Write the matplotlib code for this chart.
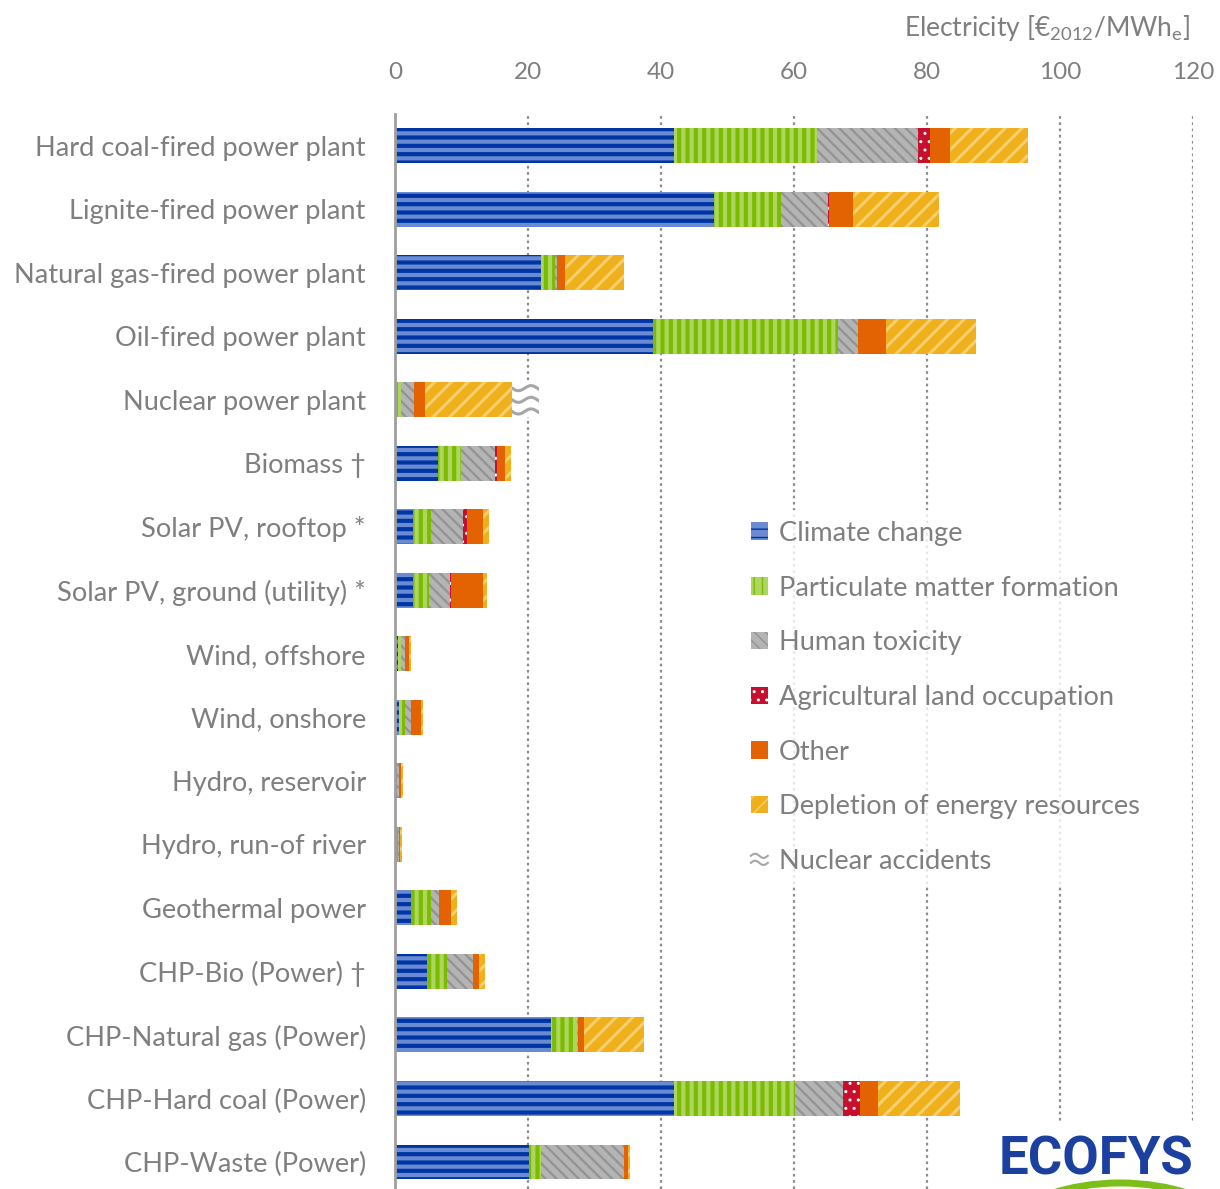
import matplotlib
matplotlib.use('Agg')
import matplotlib.pyplot as plt
import matplotlib.transforms as mtrans
import numpy as np
from matplotlib.patches import Arc, Rectangle
from matplotlib.lines import Line2D
from matplotlib.legend_handler import HandlerBase

plt.rcParams['font.family'] = ['Lato', 'DejaVu Sans']
plt.rcParams['mathtext.fontset'] = 'custom'
plt.rcParams['mathtext.rm'] = 'Lato'
plt.rcParams['mathtext.default'] = 'regular'

# ---------------- data ----------------
categories = [
    "Hard coal-fired power plant",
    "Lignite-fired power plant",
    "Natural gas-fired power plant",
    "Oil-fired power plant",
    "Nuclear power plant",
    "Biomass \u2020",
    "Solar PV, rooftop *",
    "Solar PV, ground (utility) *",
    "Wind, offshore",
    "Wind, onshore",
    "Hydro, reservoir",
    "Hydro, run-of river",
    "Geothermal power",
    "CHP-Bio (Power) \u2020",
    "CHP-Natural gas (Power)",
    "CHP-Hard coal (Power)",
    "CHP-Waste (Power)",
]
climate_change = [41.9, 48.0, 22.0, 38.8, 0.1, 6.4, 2.7, 2.7, 0.4, 0.6, 0.3, 0.1, 2.4, 4.8, 23.5, 41.9, 20.2]
particulate    = [21.5, 10.1, 2.0, 27.8, 0.8, 3.5, 2.7, 2.4, 0.5, 0.9, 0.05, 0.3, 3.0, 3.0, 3.9, 18.2, 1.7]
human_toxicity = [15.3, 7.0, 0.3, 3.0, 1.9, 5.1, 4.8, 3.1, 0.6, 0.9, 0.2, 0.2, 1.2, 3.9, 0.1, 7.3, 12.6]
agri_land      = [1.8, 0.2, 0.0, 0.0, 0.0, 0.3, 0.6, 0.2, 0.0, 0.0, 0.0, 0.0, 0.0, 0.1, 0.0, 2.5, 0.0]
other          = [3.0, 3.6, 1.3, 4.2, 1.7, 1.2, 2.4, 4.8, 0.6, 1.5, 0.3, 0.1, 1.8, 0.9, 0.9, 2.7, 0.6]
depletion      = [11.7, 12.9, 8.8, 13.6, 13.1, 0.9, 0.9, 0.6, 0.3, 0.3, 0.3, 0.3, 0.9, 0.9, 9.0, 12.3, 0.3]
nuclear_acc    = [0, 0, 0, 0, 4.0, 0, 0, 0, 0, 0, 0, 0, 0, 0, 0, 0, 0]

series_names = ["Climate change", "Particulate matter formation", "Human toxicity",
                "Agricultural land occupation", "Other", "Depletion of energy resources",
                "Nuclear accidents"]
x_ticks = [0, 20, 40, 60, 80, 100, 120]

# ---------------- styles ----------------
styles = [
    dict(fc='#6a8bd2', ec='#0035a5', hatch='--', hlw=3.0),   # climate
    dict(fc='#acd660', ec='#7cbb00', hatch='||', hlw=3.0),   # particulate
    dict(fc='#b4b4b4', ec='#939393', hatch='\\\\\\', hlw=1.6),  # human tox
    dict(fc='#c8102e', ec='#ffffff', hatch='..', hlw=1.0),   # agri
    dict(fc='#e36201', ec='#e36201', hatch=None, hlw=1.0),   # other
    dict(fc='#efb01c', ec='#f6cf6e', hatch='//', hlw=2.2),   # depletion
    dict(fc='#ffffff', ec='#ffffff', hatch=None, hlw=1.0),   # nuclear accidents
]
text_gray = '#7f7f7f'
FS = 19.6
FS_TICK = 17.5

W, H = 1220, 1189
fig = plt.figure(figsize=(W / 100, H / 100), dpi=100)
ax_top_px = 114
ax = fig.add_axes([395 / W, 0, (1193 - 395) / W, 1 - ax_top_px / H])

y = np.arange(len(categories))
all_series = [climate_change, particulate, human_toxicity, agri_land, other, depletion, nuclear_acc]
left = np.zeros(len(categories))
bar_h = 0.55
bar_containers = []
for vals, st in zip(all_series, styles):
    vals = np.array(vals, dtype=float)
    bc = ax.barh(y, vals, left=left, height=bar_h, color=st['fc'], edgecolor=st['ec'],
                 linewidth=0, hatch=st['hatch'], zorder=3)
    for b in bc:
        if hasattr(b, 'set_hatch_linewidth'):
            b.set_hatch_linewidth(st['hlw'])
    bar_containers.append(bc)
    left = left + vals

# wavy overlay for nuclear accidents
for b, v in zip(bar_containers[-1], nuclear_acc):
    if v > 0:
        x0, w = b.get_x(), b.get_width()
        y0, h = b.get_y(), b.get_height()
        xs = np.linspace(x0, x0 + w, 200)
        for k in range(3):
            yc = y0 + h * (k + 0.5) / 3
            ys = yc + (h / 3) * 0.22 * np.sin(2 * np.pi * (xs - x0) / (w * 0.95))
            ln, = ax.plot(xs, ys, color='#a6a6a6', lw=2.2, zorder=4)
            ln.set_clip_path(b)

ax.set_xlim(0, 120)
ax.set_ylim((H - 146) / 63.5, -0.5)
ax.set_yticks(y)
ax.set_yticklabels(categories)
ax.set_xticks(x_ticks)
ax.xaxis.tick_top()
ax.tick_params(axis='x', length=0, pad=22, labelsize=FS_TICK, labelcolor=text_gray)
ax.tick_params(axis='y', length=0, pad=21, labelsize=FS, labelcolor=text_gray)
for s in ['top', 'right', 'bottom']:
    ax.spines[s].set_visible(False)
ax.spines['left'].set_color('#9f9f9f')
ax.spines['left'].set_linewidth(2)
ax.spines['left'].set_zorder(5)
ax.grid(axis='x', color='#8c8c8c', linestyle=(0, (1.2, 1.6)), linewidth=1.6, zorder=1)
ax.grid(axis='y', visible=False)
ax.set_axisbelow(True)

fig.text(1190 / W, 1 - 28 / H, r'Electricity [€$_{2012}$/MWh$_{e}$]', ha='right', va='center',
         fontsize=19, color=text_gray)


# legend
class WaveHandler(HandlerBase):
    def create_artists(self, legend, orig_handle, xdescent, ydescent, width, height, fontsize, trans):
        xs = np.linspace(0, width, 30)
        arts = []
        for k in range(2):
            yc = height * (0.3 + 0.4 * k)
            ys = yc + height * 0.12 * np.sin(2 * np.pi * xs / width)
            l = Line2D(xs - xdescent, ys - ydescent, color='#a6a6a6', lw=1.5, transform=trans)
            arts.append(l)
        return arts


handles = []
for st in styles[:-1]:
    r = Rectangle((0, 0), 1, 1, facecolor=st['fc'], edgecolor=st['ec'], linewidth=0, hatch=st['hatch'])
    if hasattr(r, 'set_hatch_linewidth'):
        r.set_hatch_linewidth(st['hlw'])
    handles.append(r)
wave_handle = Rectangle((0, 0), 1, 1, facecolor='white', edgecolor='white')
handles.append(wave_handle)

leg = ax.legend(handles, series_names, loc='upper left', bbox_to_anchor=(740 / W, 1 - 510 / H),
                bbox_transform=fig.transFigure, frameon=True, fontsize=FS, labelcolor=text_gray,
                handlelength=0.62, handleheight=0.62, handletextpad=0.4, labelspacing=1.09,
                borderaxespad=0, borderpad=0.4, fancybox=False,
                handler_map={wave_handle: WaveHandler()})
leg.get_frame().set_facecolor('white')
leg.get_frame().set_edgecolor('none')
leg.set_zorder(6)

# logo
fig.text(1096 / W, 1 - 1160 / H, 'ECOFYS', ha='center', va='center', fontsize=38,
         fontweight='bold', family=['Roboto', 'DejaVu Sans'], color='#1b40a0',
         bbox=dict(facecolor='white', edgecolor='none', pad=8))
arc = Arc((1120, 6 - 70), 260, 140, theta1=40, theta2=140, color='#7cbf1a', lw=5,
          transform=mtrans.IdentityTransform(), zorder=10)
fig.add_artist(arc)

fig.savefig('out.png', dpi=100)
